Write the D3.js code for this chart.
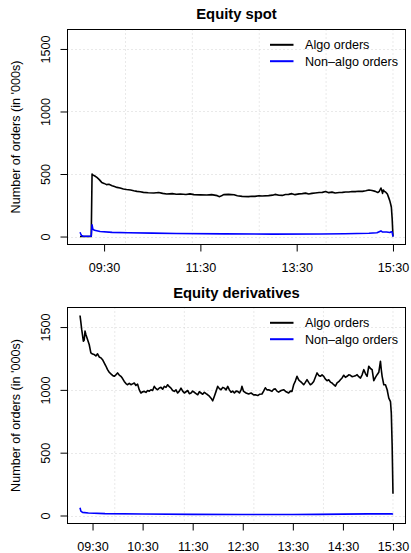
<!DOCTYPE html>
<html><head><meta charset="utf-8">
<script src="https://cdn.jsdelivr.net/npm/d3@7"></script>
<style>body{margin:0;background:#fff} svg{display:block} text{font-family:"Liberation Sans",Arial,Helvetica,sans-serif}</style>
</head><body><svg id="c" width="411" height="553"></svg>
<script>
// ---------- DATA ----------
const spotAlgo = [["09:00",0],["09:14",0],["09:15",500],["09:16",492],["09:18",486],["09:21",473],["09:24",455],["09:27",433],["09:30",425],["09:33",415],["09:36",418],["09:40",407],["09:43",400],["09:46",393],["09:50",388],["09:54",380],["09:58",376],["10:03",372],["10:07",366],["10:11",361],["10:15",358],["10:19",353],["10:25",350],["10:32",348],["10:38",352],["10:43",345],["10:48",340],["10:55",343],["11:00",338],["11:05",340],["11:12",336],["11:17",341],["11:22",335],["11:30",333],["11:38",332],["11:44",335],["11:51",327],["11:54",319],["11:57",328],["11:59",335],["12:05",337],["12:12",334],["12:16",326],["12:22",321],["12:30",319],["12:34",322],["12:38",321],["12:43",326],["12:47",324],["12:55",327],["13:00",331],["13:03",337],["13:08",330],["13:12",329],["13:16",336],["13:20",337],["13:24",343],["13:28",335],["13:33",341],["13:37",343],["13:41",347],["13:45",340],["13:49",345],["13:53",348],["13:58",352],["14:02",353],["14:06",360],["14:10",351],["14:14",355],["14:18",348],["14:23",352],["14:27",353],["14:31",356],["14:35",356],["14:39",360],["14:43",359],["14:47",362],["14:52",361],["14:56",366],["15:00",372],["15:04",368],["15:08",361],["15:11",352],["15:13",362],["15:15",388],["15:16",370],["15:17",345],["15:18",372],["15:19",362],["15:21",355],["15:23",340],["15:25",305],["15:26",287],["15:27",262],["15:28",234],["15:29",141],["15:30",0]];
const spotNonAlgo = [["09:00",34],["09:01",20],["09:02",8],["09:04",2],["09:14",2],["09:15",93],["09:16",60],["09:18",50],["09:25",40],["09:40",33],["10:00",30],["10:30",27],["11:00",24],["12:00",21],["13:00",19],["14:00",20],["14:30",22],["15:00",26],["15:10",30],["15:15",45],["15:17",36],["15:22",36],["15:26",32],["15:28",38],["15:29",34],["15:30",0]];
const derivAlgo = [["09:15",1592],["09:16",1540],["09:17",1481],["09:19",1388],["09:20",1395],["09:21",1468],["09:22",1441],["09:24",1401],["09:26",1361],["09:28",1295],["09:30",1285],["09:32",1281],["09:34",1270],["09:36",1287],["09:38",1262],["09:40",1255],["09:42",1240],["09:44",1215],["09:46",1190],["09:48",1161],["09:50",1140],["09:52",1127],["09:54",1115],["09:56",1108],["09:58",1120],["10:00",1135],["10:02",1118],["10:04",1108],["10:06",1090],["10:08",1067],["10:10",1050],["10:12",1041],["10:14",1052],["10:16",1041],["10:18",1048],["10:20",1055],["10:22",1035],["10:24",1045],["10:26",1000],["10:28",975],["10:30",985],["10:32",988],["10:34",980],["10:36",995],["10:38",990],["10:40",1001],["10:42",995],["10:44",1028],["10:46",1010],["10:48",1001],["10:50",1015],["10:52",1020],["10:54",1005],["10:56",1028],["10:58",1020],["11:00",1041],["11:02",1025],["11:04",1014],["11:06",995],["11:08",988],["11:10",1000],["11:12",975],["11:14",990],["11:16",1014],["11:18",990],["11:20",975],["11:22",985],["11:24",995],["11:26",970],["11:28",975],["11:30",990],["11:32",981],["11:34",970],["11:36",961],["11:38",985],["11:40",975],["11:42",965],["11:44",981],["11:46",970],["11:48",961],["11:50",950],["11:52",934],["11:54",913],["11:56",950],["11:58",988],["12:00",1028],["12:02",1010],["12:04",1001],["12:06",1020],["12:08",1014],["12:10",1000],["12:12",1028],["12:14",1000],["12:16",981],["12:18",990],["12:20",975],["12:22",990],["12:24",988],["12:26",975],["12:28",1000],["12:29",1028],["12:31",988],["12:34",975],["12:37",967],["12:40",975],["12:43",960],["12:45",961],["12:48",955],["12:50",965],["12:53",967],["12:55",990],["12:57",1017],["12:59",1000],["13:01",1001],["13:03",995],["13:05",988],["13:07",1005],["13:09",1008],["13:11",990],["13:13",982],["13:16",995],["13:19",1001],["13:22",985],["13:25",975],["13:27",990],["13:29",988],["13:31",1041],["13:33",1070],["13:35",1108],["13:37",1080],["13:39",1067],["13:41",1055],["13:43",1041],["13:45",1060],["13:47",1081],["13:49",1060],["13:51",1041],["13:53",1050],["13:55",1067],["13:57",1100],["13:59",1135],["14:01",1115],["14:03",1108],["14:05",1120],["14:07",1108],["14:09",1085],["14:11",1073],["14:13",1080],["14:15",1062],["14:17",1055],["14:19",1041],["14:21",1030],["14:23",1055],["14:25",1065],["14:27",1081],["14:29",1095],["14:31",1116],["14:33",1100],["14:35",1108],["14:37",1120],["14:39",1116],["14:41",1105],["14:43",1108],["14:45",1112],["14:47",1121],["14:49",1105],["14:51",1094],["14:53",1120],["14:55",1161],["14:57",1130],["14:59",1108],["15:00",1150],["15:01",1188],["15:03",1170],["15:05",1161],["15:07",1073],["15:09",1100],["15:11",1121],["15:13",1140],["15:15",1228],["15:16",1160],["15:17",1108],["15:19",1041],["15:21",1041],["15:23",1001],["15:25",934],["15:27",907],["15:28",814],["15:29",560],["15:30",174]];
const derivNonAlgo = [["09:15",62],["09:16",35],["09:18",25],["09:25",20],["09:45",15],["10:30",12],["11:30",9],["12:30",8],["13:30",8],["14:00",9],["14:30",11],["15:00",13],["15:29",14],["15:30",8]];

const titles = ["Equity spot", "Equity derivatives"];
const spotXTicks = ["09:30","11:30","13:30","15:30"];
const derivXTicks = ["09:30","10:30","11:30","12:30","13:30","14:30","15:30"];
const yTicks = [0, 500, 1000, 1500];
const legendLabels = ["Algo orders", "Non\u2013algo orders"];
const seriesColors = ["#000000", "#0000ff"];
const yAxisTitle = "Number of orders (in '000s)";

// ---------- HELPERS ----------
const toMin = s => { const [h, m] = s.split(":").map(Number); return h * 60 + m; };
const fmt = m => String(Math.floor(m / 60)).padStart(2, "0") + ":" + String(Math.round(m % 60)).padStart(2, "0");
const svg = d3.select("#c");
const FONT = 12.6;

const yMax = d3.max(derivAlgo, d => d[1]);
const yDomain = [-0.04 * yMax, 1.04 * yMax];

function panel(cfg) {
  const L = 67.5, R = 405.5, T = cfg.top, B = cfg.bottom;
  const allT = cfg.series.flatMap(s => s.map(d => toMin(d[0])));
  const t0 = d3.min(allT), t1 = d3.max(allT), pad = (t1 - t0) * 0.04;
  const x = d3.scaleLinear().domain([t0 - pad, t1 + pad]).range([L, R]);
  const y = d3.scaleLinear().domain(yDomain).range([B, T]);
  const g = svg.append("g");

  // grid (R grid(): dotted lightgray)
  const gridX = d3.range(t1, t0 - pad, -5000 / 60);
  g.append("g").selectAll("line").data(gridX).join("line")
    .attr("x1", d => x(d)).attr("x2", d => x(d)).attr("y1", T).attr("y2", B)
    .attr("stroke", "#d3d3d3").attr("stroke-dasharray", "1,3");
  g.append("g").selectAll("line").data(yTicks).join("line")
    .attr("x1", L).attr("x2", R).attr("y1", d => Math.round(y(d)) + 0.5).attr("y2", d => Math.round(y(d)) + 0.5)
    .attr("stroke", "#d3d3d3").attr("stroke-dasharray", "1,3");

  // lines (algo first, non-algo on top)
  const line = d3.line().x(d => x(toMin(d[0]))).y(d => y(d[1]));
  [0, 1].forEach(i => {
    g.append("path").datum(cfg.series[i]).attr("d", line)
      .attr("fill", "none").attr("stroke", seriesColors[i]).attr("stroke-width", 1.6)
      .attr("stroke-linejoin", "round");
  });

  // box
  g.append("rect").attr("x", L).attr("y", T).attr("width", R - L).attr("height", B - T)
    .attr("fill", "none").attr("stroke", "#000").attr("stroke-width", 1);

  // y axis
  g.append("g").attr("transform", `translate(${L},0)`)
    .call(d3.axisLeft(y).tickValues(yTicks).tickSize(7).tickFormat(d3.format("d")))
    .call(a => a.select(".domain").remove())
    .call(a => a.attr("font-size", FONT).attr("font-family", null))
    .call(a => a.selectAll("text").attr("x", 0).attr("dy", 0).attr("text-anchor", "middle")
      .attr("fill", "#000").attr("transform", "translate(-17.5,0) rotate(-90)"));

  // x axis
  g.append("g").attr("transform", `translate(0,${B})`)
    .call(d3.axisBottom(x).tickValues(cfg.xTicks.map(toMin)).tickSize(7).tickFormat(fmt))
    .call(a => a.select(".domain").remove())
    .call(a => a.attr("font-size", FONT).attr("font-family", null))
    .call(a => a.selectAll("text").attr("y", 27.5).attr("dy", 0).attr("fill", "#000"));

  // title
  g.append("text").attr("x", (L + R) / 2).attr("y", cfg.titleY).attr("text-anchor", "middle")
    .attr("font-weight", "bold").attr("font-size", 14.8).text(cfg.title);

  // y title
  g.append("text").attr("transform", `translate(20,${(T + B) / 2}) rotate(-90)`)
    .attr("text-anchor", "middle").attr("font-size", FONT).text(yAxisTitle);

  // legend
  const lg = g.append("g");
  legendLabels.forEach((lab, i) => {
    const ly = T + 15.3 + i * 16.4;
    lg.append("line").attr("x1", 270).attr("x2", 293.5).attr("y1", ly).attr("y2", ly)
      .attr("stroke", seriesColors[i]).attr("stroke-width", 2);
    lg.append("text").attr("x", 305).attr("y", ly + 4.5).attr("font-size", FONT).text(lab);
  });
}

panel({ title: titles[0], series: [spotAlgo, spotNonAlgo], top: 29.5, bottom: 244.5, titleY: 18.5, xTicks: spotXTicks });
panel({ title: titles[1], series: [derivAlgo, derivNonAlgo], top: 307.5, bottom: 523.5, titleY: 297.5, xTicks: derivXTicks });
</script></body></html>
